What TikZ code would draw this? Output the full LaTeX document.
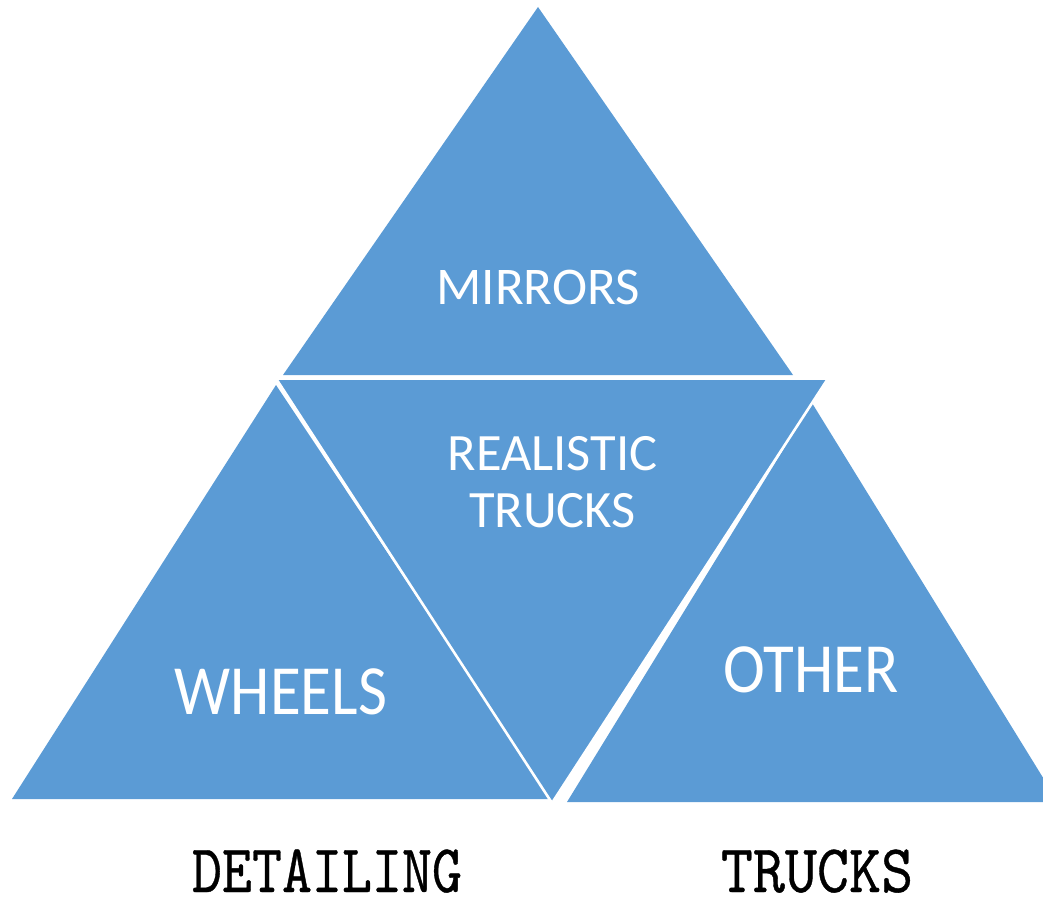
\documentclass[tikz,border=0pt]{standalone}
\usepackage{fontspec}
\newfontfamily\calib{Carlito}
\newfontfamily\typew[FakeBold=0.6]{lmmono10-regular.otf}
\definecolor{tblue}{HTML}{5B9BD5}
\begin{document}
\begin{tikzpicture}[x=1pt,y=-1pt,
  tri/.style={fill=tblue},
  lab/.style={text=white,inner sep=0pt,anchor=base},
  foot/.style={text=black,inner sep=0pt,anchor=base}]
\useasboundingbox (0,0) rectangle (1043,896);
% left triangle (WHEELS)
\fill[tri] (276,385) -- (12,799) -- (551,799) -- cycle;
% right triangle (OTHER)
\fill[tri] (812,403) -- (567,802) -- (1058,802) -- cycle;
% top triangle (MIRRORS)
\fill[tri] (538,7) -- (283,375) -- (793,375) -- cycle;
% inverted centre triangle
\filldraw[tri,draw=white,line width=2.6pt,line join=miter] (276,378.5) -- (828,378.5) -- (552,803) -- cycle;
% labels
\node[lab,font=\calib\fontsize{53}{57}\selectfont] (mirrors) at (538,304) {MIRRORS};
\node[text=white,inner sep=0pt,align=center,font=\calib\fontsize{52.5}{57}\selectfont] (real) at (552.5,482.5) {REALISTIC\\TRUCKS};
\node[lab,font=\calib\fontsize{63}{70}\selectfont] (wheels) at (281,714) {\scalebox{1}[1.12]{WHEELS}};
\node[lab,font=\calib\fontsize{63}{70}\selectfont] (other) at (811,692) {\scalebox{1}[1.12]{OTHER}};
\node[foot,font=\typew\fontsize{56}{60}\selectfont] (detailing) at (327,892) {\scalebox{1.02}[1.22]{DETAILING}};
\node[foot,font=\typew\fontsize{56}{60}\selectfont] (trucks) at (817,892) {\scalebox{1.09}[1.22]{TRUCKS}};
\end{tikzpicture}
\end{document}
